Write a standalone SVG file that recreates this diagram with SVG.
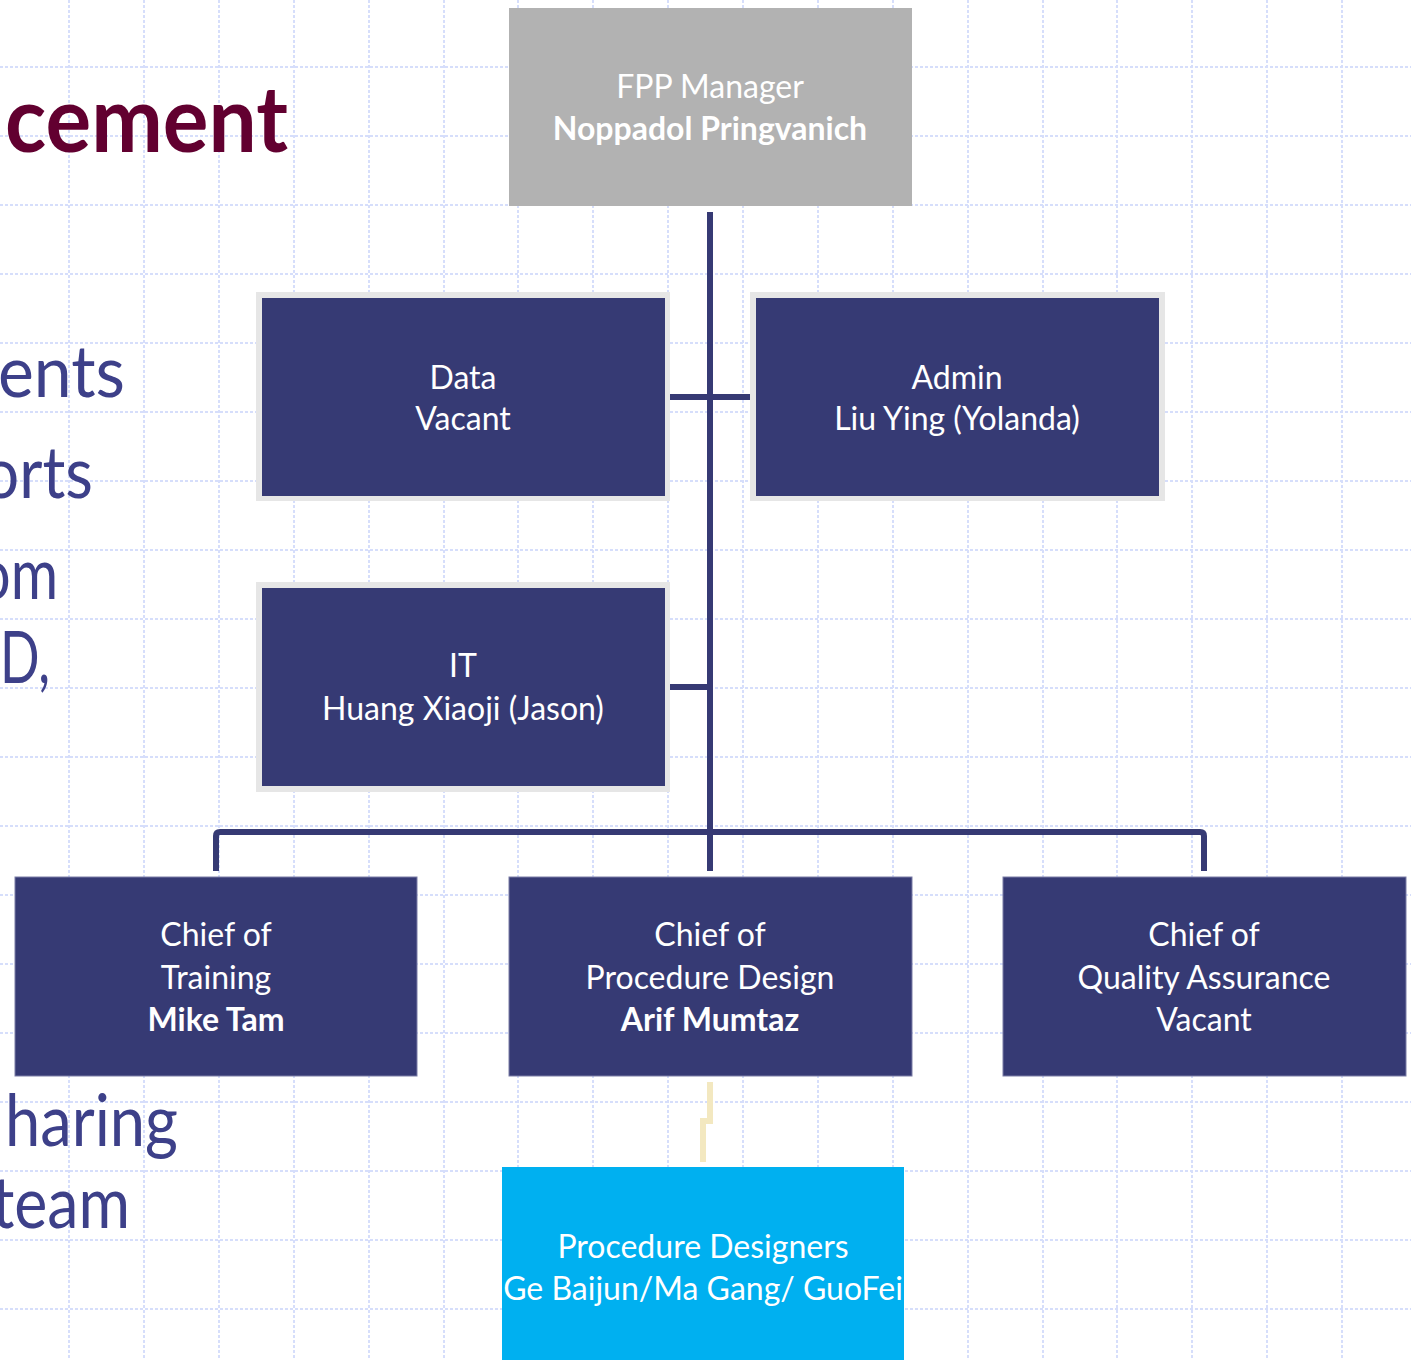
<svg xmlns="http://www.w3.org/2000/svg" width="1411" height="1360" viewBox="0 0 1411 1360">
<style>
.grid line{stroke:#d6defb;stroke-width:2;stroke-dasharray:3 2}
.bg{font-family:Lato,"Open Sans","Liberation Sans",sans-serif;fill:#3d4089;font-size:72px}
.title{font-family:Lato,"Open Sans","Liberation Sans",sans-serif;fill:#620030;font-size:92px;font-weight:bold}
.dark{fill:#363a74}
.frame{fill:#e6e6e6}
.t{font-family:Lato,"Open Sans","Liberation Sans",sans-serif;fill:#ffffff;font-size:32px;text-anchor:middle}
.b{font-weight:bold}
.conn{stroke:#363a74;stroke-width:6;fill:none}
</style>
<rect width="1411" height="1360" fill="#ffffff"/>
<g class="grid">
<line x1="69" y1="0" x2="69" y2="1360"/><line x1="144" y1="0" x2="144" y2="1360"/><line x1="219" y1="0" x2="219" y2="1360"/><line x1="294" y1="0" x2="294" y2="1360"/><line x1="369" y1="0" x2="369" y2="1360"/><line x1="444" y1="0" x2="444" y2="1360"/><line x1="518" y1="0" x2="518" y2="1360"/><line x1="593" y1="0" x2="593" y2="1360"/><line x1="668" y1="0" x2="668" y2="1360"/><line x1="743" y1="0" x2="743" y2="1360"/><line x1="818" y1="0" x2="818" y2="1360"/><line x1="893" y1="0" x2="893" y2="1360"/><line x1="968" y1="0" x2="968" y2="1360"/><line x1="1043" y1="0" x2="1043" y2="1360"/><line x1="1117" y1="0" x2="1117" y2="1360"/><line x1="1192" y1="0" x2="1192" y2="1360"/><line x1="1267" y1="0" x2="1267" y2="1360"/><line x1="1342" y1="0" x2="1342" y2="1360"/>
<line x1="0" y1="67" x2="1411" y2="67"/><line x1="0" y1="136" x2="1411" y2="136"/><line x1="0" y1="205" x2="1411" y2="205"/><line x1="0" y1="274" x2="1411" y2="274"/><line x1="0" y1="343" x2="1411" y2="343"/><line x1="0" y1="412" x2="1411" y2="412"/><line x1="0" y1="481" x2="1411" y2="481"/><line x1="0" y1="550" x2="1411" y2="550"/><line x1="0" y1="619" x2="1411" y2="619"/><line x1="0" y1="688" x2="1411" y2="688"/><line x1="0" y1="757" x2="1411" y2="757"/><line x1="0" y1="826" x2="1411" y2="826"/><line x1="0" y1="895" x2="1411" y2="895"/><line x1="0" y1="964" x2="1411" y2="964"/><line x1="0" y1="1033" x2="1411" y2="1033"/><line x1="0" y1="1102" x2="1411" y2="1102"/><line x1="0" y1="1171" x2="1411" y2="1171"/><line x1="0" y1="1240" x2="1411" y2="1240"/><line x1="0" y1="1309" x2="1411" y2="1309"/>
</g>
<g id="slide-text">
<text class="title" x="5" y="152" textLength="283" lengthAdjust="spacingAndGlyphs">cement</text>
<text class="bg" x="-2" y="397" textLength="127" lengthAdjust="spacingAndGlyphs">ents</text>
<text class="bg" x="-17" y="498" textLength="110" lengthAdjust="spacingAndGlyphs">orts</text>
<text class="bg" x="-22" y="599" textLength="80" lengthAdjust="spacingAndGlyphs">om</text>
<text class="bg" x="0" y="683" textLength="50" lengthAdjust="spacingAndGlyphs">D,</text>
<text class="bg" x="5" y="1146" textLength="173" lengthAdjust="spacingAndGlyphs">haring</text>
<text class="bg" x="-8" y="1228" textLength="138" lengthAdjust="spacingAndGlyphs">team</text>
</g>
<g id="connectors">
<line class="conn" x1="710" y1="212" x2="710" y2="871"/>
<line class="conn" x1="670" y1="397" x2="750" y2="397"/>
<line class="conn" x1="670" y1="687" x2="710" y2="687"/>
<path class="conn" d="M216 871 V836 Q216 832 220 832 H1200 Q1204 832 1204 836 V871"/>
<path d="M710 1082 V1121 H703 V1162" stroke="#f3e8c0" stroke-width="6" fill="none"/>
</g>
<g id="node-manager">
<rect x="509" y="8" width="403" height="198" fill="#b2b2b2"/>
<text class="t" x="710" y="98">FPP Manager</text>
<text class="t b" x="710" y="140">Noppadol Pringvanich</text>
</g>
<g id="node-data">
<rect class="frame" x="256" y="292" width="414" height="209"/>
<rect class="dark" x="262" y="298" width="403" height="198"/>
<text class="t" x="463" y="389">Data</text>
<text class="t" x="463" y="430">Vacant</text>
</g>
<g id="node-admin">
<rect class="frame" x="750" y="292" width="415" height="209"/>
<rect class="dark" x="756" y="298" width="403" height="198"/>
<text class="t" x="957" y="389">Admin</text>
<text class="t" x="957" y="430">Liu Ying (Yolanda)</text>
</g>
<g id="node-it">
<rect class="frame" x="256" y="582" width="414" height="210"/>
<rect class="dark" x="262" y="588" width="403" height="198"/>
<text class="t" x="463" y="677">IT</text>
<text class="t" x="463" y="720">Huang Xiaoji (Jason)</text>
</g>
<g id="node-training">
<rect class="dark" x="15" y="877" width="402" height="199" stroke="#7a7da6" stroke-width="1"/>
<text class="t" x="216" y="946">Chief of</text>
<text class="t" x="216" y="989">Training</text>
<text class="t b" x="216" y="1031">Mike Tam</text>
</g>
<g id="node-procedure">
<rect class="dark" x="509" y="877" width="403" height="199" stroke="#7a7da6" stroke-width="1"/>
<text class="t" x="710" y="946">Chief of</text>
<text class="t" x="710" y="989">Procedure Design</text>
<text class="t b" x="710" y="1031">Arif Mumtaz</text>
</g>
<g id="node-qa">
<rect class="dark" x="1003" y="877" width="403" height="199" stroke="#7a7da6" stroke-width="1"/>
<text class="t" x="1204" y="946">Chief of</text>
<text class="t" x="1204" y="989">Quality Assurance</text>
<text class="t" x="1204" y="1031">Vacant</text>
</g>
<g id="node-designers">
<rect x="502" y="1167" width="402" height="200" fill="#00b0f0"/>
<text class="t" x="703" y="1258">Procedure Designers</text>
<text class="t" x="703" y="1300">Ge Baijun/Ma Gang/ GuoFei</text>
</g>
</svg>
